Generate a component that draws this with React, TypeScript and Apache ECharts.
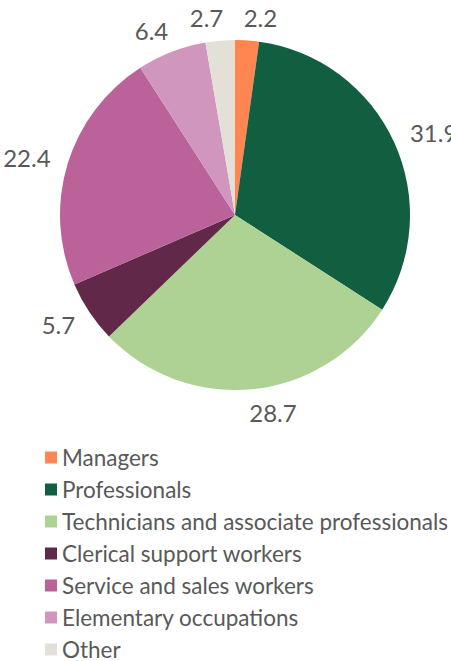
import React, { useEffect, useRef } from "react";
import * as echarts from "echarts";

const categories = [
  "Managers",
  "Professionals",
  "Technicians and associate professionals",
  "Clerical support workers",
  "Service and sales workers",
  "Elementary occupations",
  "Other",
];
const values = [2.2, 31.9, 28.7, 5.7, 22.4, 6.4, 2.7];
const colors = ["#FF8551", "#125E40", "#ADD294", "#61284A", "#BA6299", "#D196BD", "#E3E0D8"];

const FONT = "Lato, 'Liberation Sans', sans-serif";
const TEXT = "#595959";

export default function App() {
  const ref = useRef<HTMLDivElement>(null);
  useEffect(() => {
    if (!ref.current) return;
    const chart = echarts.init(ref.current, undefined, { renderer: "svg" });
    chart.setOption({
      animation: false,
      backgroundColor: "#ffffff",
      legend: {
        orient: "vertical",
        left: 45,
        top: 446,
        height: 260,
        padding: 0,
        icon: "rect",
        itemWidth: 12,
        itemHeight: 12,
        itemGap: 9,
        data: categories,
        textStyle: { color: TEXT, fontSize: 22.5, fontFamily: FONT },
        selectedMode: false,
      },
      series: [
        {
          type: "pie",
          name: "main",
          center: [235, 215],
          radius: [0, 175],
          startAngle: 90,
          clockwise: true,
          silent: true,
          avoidLabelOverlap: false,
          label: {
            show: true,
            position: "outside",
            alignTo: "none",
            distanceToLabelLine: -5,
            formatter: "{c}",
            color: TEXT,
            fontSize: 24,
            fontFamily: FONT,
          },
          labelLine: { show: false, length: 23, length2: 0 },
          data: categories.map((c, i) => ({ name: c, value: values[i], itemStyle: { color: colors[i] } })),
        },
      ],
    });
    return () => chart.dispose();
  }, []);
  return (
    <div
      ref={ref}
      style={{ position: "fixed", left: 0, top: 0, width: 451, height: 661, background: "#fff" }}
    />
  );
}
